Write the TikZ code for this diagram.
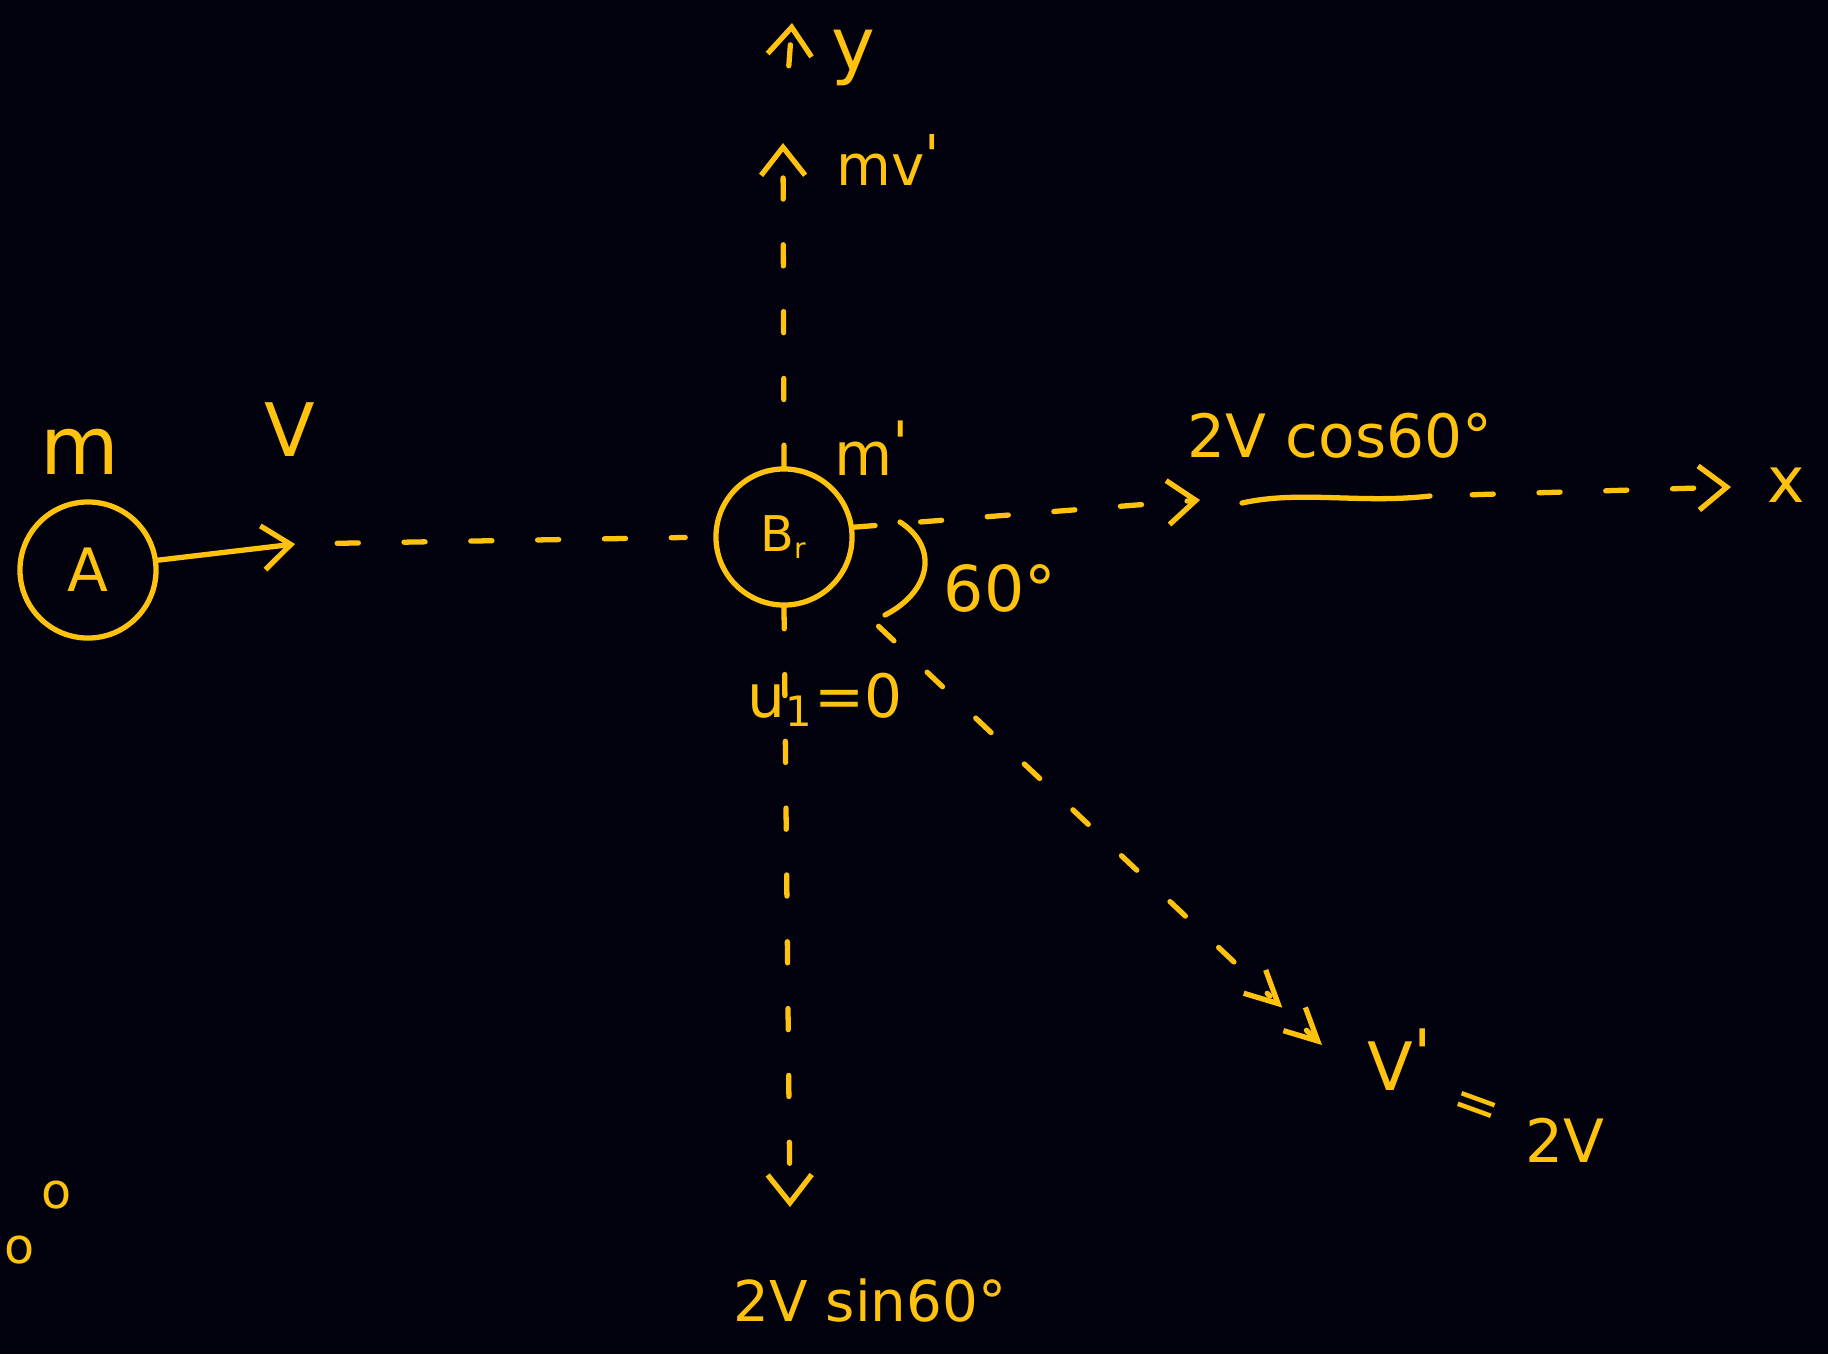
\documentclass[tikz,border=0pt]{standalone}
\usepackage{fontspec}
\setmainfont{DejaVu Sans}
\usetikzlibrary{arrows.meta, positioning}
\definecolor{fondo}{HTML}{02020E}
\definecolor{ambar}{HTML}{FFC30F}

\newcommand{\tam}[1]{\fontsize{#1}{#1}\selectfont}
\newcommand{\prima}{\raisebox{0.35ex}{\textquotesingle}}

\begin{document}
\begin{tikzpicture}[x=0.01cm, y=-0.01cm, ambar, line width=1.5pt, line cap=round,
    bola/.style={circle, draw, minimum size=1.36cm, inner sep=0pt},
    guia/.style={dash pattern=on 6pt off 13pt},
    punta/.style={-{Straight Barb[length=2.8mm, width=4.4mm]}},
    doble/.style={-{Straight Barb[length=3.2mm, width=3.2mm, sep=1.4mm] Straight Barb[length=3.2mm, width=3.2mm]}},
    etq/.style={inner sep=1pt}]

  % --- fondo (fija los margenes) ---
  \fill[fondo] (0,0) rectangle (1828,1354);
  \useasboundingbox (0,0) rectangle (1828,1354);

  % --- bolas A y B ---
  \node[bola, font=\tam{17}] (A) at (88,570) {A};
  \node[bola, font=\tam{14}] (B) at (784,537) {B\textsubscript{\tam{8}r}};

  % puntas y extremos libres
  \coordinate (vtip)  at (295,544);
  \coordinate (xa)    at (1200,500);
  \coordinate (s1)    at (1242,503);
  \coordinate (s2)    at (1430,496);
  \coordinate (xtip)  at (1731,487);
  \coordinate (mvtip) at (783,143);
  \coordinate (ytip)  at (792,23);
  \coordinate (stip)  at (790,1207);
  \coordinate (dpre)  at (1270,996);
  \coordinate (dtip)  at (1322,1045);
  \coordinate (a1)    at (900,522);
  \coordinate (a2)    at (885,615);

  % --- antes del choque ---
  \draw[punta] (A.8) -- (vtip);
  \draw[guia, shorten <=12pt, shorten >=8pt] (vtip) -- (B.west);
  \node[etq, font=\tam{23}] (mA) at (80,452) {m};
  \node[etq, font=\tam{21}] (lV) at (290,430) {V};
  \node[etq, font=\tam{17}] (mB) at (872,448) {m\prima};

  % --- eje x ---
  \draw[guia, punta] (B.8) -- (xa);
  \draw (s1) .. controls (1300,490) and (1360,504) .. (s2);
  \draw[guia, punta, shorten <=12pt] (s2) -- (xtip);
  \node[etq, font=\tam{17}] (vx) at (1340,436) {2V cos60°};
  \node[etq, font=\tam{18}] (lx) at (1786,485) {x};

  % --- eje y ---
  \draw[guia, punta] (B.north) -- (mvtip);
  \draw[guia, punta, shorten <=22pt] (mvtip) -- (ytip);
  \node[etq, font=\tam{21}] (ly) at (853,58) {y};
  \node[etq, font=\tam{16}] (lmv) at (888,160) {mv\prima};
  \draw[guia, punta] (B.south) -- (stip);
  \node[etq, font=\tam{17}] (u1) at (825,700) {u\textsubscript{1}=0};
  \node[etq, font=\tam{16}] (vy) at (870,1300) {2V sin60°};

  % --- B despues del choque, a 60 grados ---
  \draw (a1) .. controls (940,548) and (930,592) .. (a2);
  \node[etq, font=\tam{18}] (ang) at (1000,588) {60°};
  \draw[guia, shorten <=1.3cm] (B.center) -- (dpre);
  \draw[doble, shorten <=0.5cm] (dpre) -- (dtip);
  \node[etq, font=\tam{19}] (vp)  at (1400,1060) {V\prima};
  \node[etq, font=\tam{16}, rotate=-20] (veq) at (1475,1110) {=};
  \node[etq, font=\tam{17}] (v2)  at (1565,1140) {2V};

  % trazos sueltos abajo a la izquierda
  \node[etq, font=\tam{14}] (o1) at (57,1195) {o};
  \node[etq, font=\tam{14}] (o2) at (20,1250) {o};

\end{tikzpicture}
\end{document}
